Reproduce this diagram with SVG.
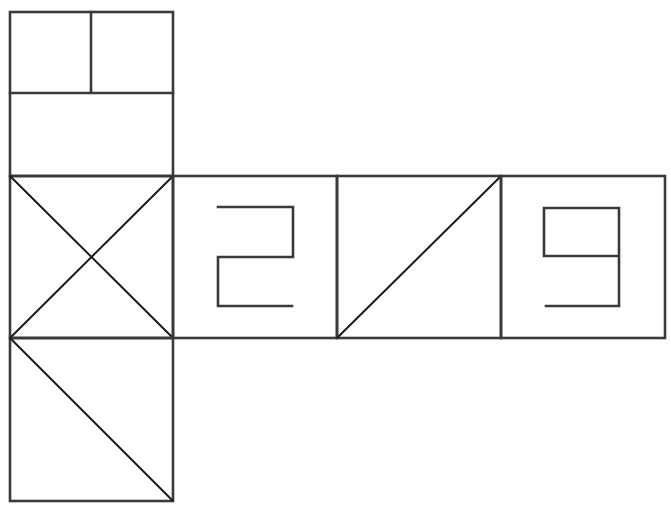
<svg xmlns="http://www.w3.org/2000/svg" width="671" height="511" viewBox="0 0 671 511">
<style>
.e{fill:none;stroke:#3a3a3a;stroke-width:2.6;stroke-linecap:square}
.d{fill:none;stroke:#1a1a1a;stroke-width:2}
</style>
<rect width="671" height="511" fill="#fff"/>
<g id="face-top">
<rect class="e" x="10" y="12" width="163" height="164"/>
<path class="e" d="M10 93H173M91 12V93"/>
</g>
<g id="face-x">
<rect class="e" x="10" y="176" width="163" height="162"/>
<path class="d" d="M10 176L173 338M173 176L10 338"/>
</g>
<g id="face-bottom">
<rect class="e" x="10" y="338" width="163" height="163"/>
<path class="d" d="M10 338L173 501"/>
</g>
<g id="face-2">
<rect class="e" x="173" y="176" width="164" height="162"/>
<path class="e" d="M218 207H293V257H218V306H292"/>
</g>
<g id="face-slash">
<rect class="e" x="337" y="176" width="164" height="162"/>
<path class="d" d="M337 338L501 176"/>
</g>
<g id="face-9">
<rect class="e" x="501" y="176" width="164" height="162"/>
<path class="e" d="M619 256H544V208H619V306H546"/>
</g>
</svg>
